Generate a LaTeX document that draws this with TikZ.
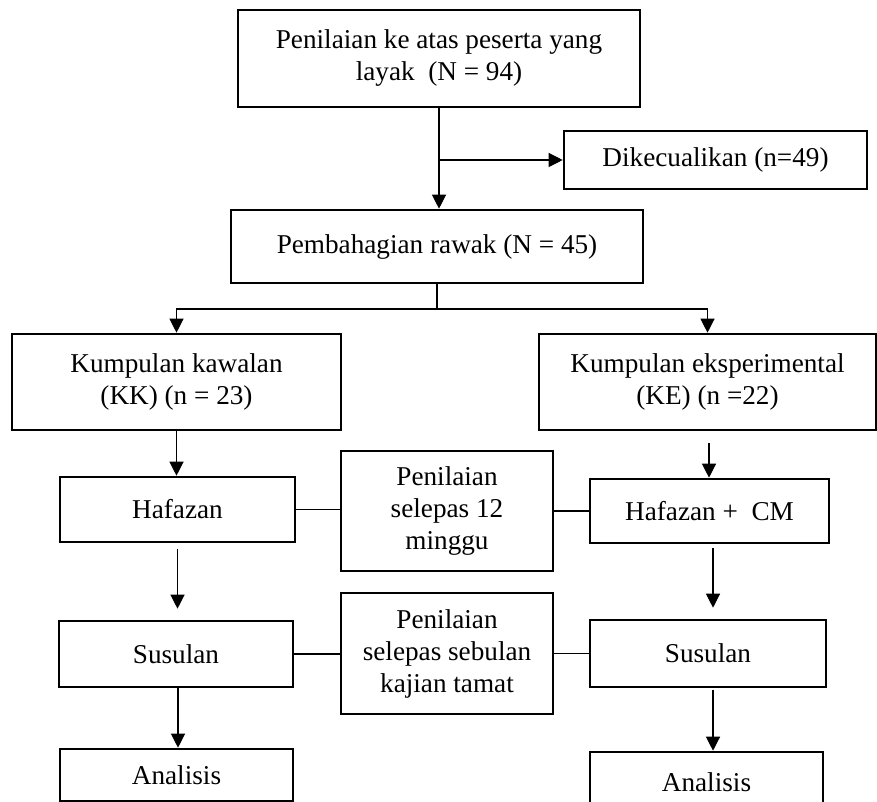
\documentclass[tikz,border=0pt]{standalone}
\usepackage{fontspec}
\setmainfont{Liberation Serif}
\usepackage{tikz}
\usetikzlibrary{positioning, arrows.meta, calc}

\begin{document}
\begin{tikzpicture}[
  x=0.5pt, y=-0.5pt,
  font=\fontsize{13.6}{16}\selectfont,
  stage/.style={draw, line width=1.3pt, align=center, inner sep=2pt},
  flow/.style={-{Triangle[length=7pt, width=7pt]}, line width=0.6pt},
  link/.style={line width=0.6pt},
]
  \clip (0,0) rectangle (877,802);
  \node[stage, minimum width=201pt, minimum height=48.5pt] (elig) at (439,58.5) {Penilaian ke atas peserta yang\\layak\ \ (N = 94)};
  \node[stage, minimum width=151.5pt, minimum height=29pt]  (excl) at (715.5,160) {Dikecualikan (n=49)};
  \node[stage, minimum width=206pt, minimum height=36.5pt]  (rand) at (437,246.5) {Pembahagian rawak (N = 45)};
  \node[stage, minimum width=164.5pt, minimum height=48pt]  (kk)   at (176.5,382) {Kumpulan kawalan\\(KK) (n = 23)};
  \node[stage, minimum width=168.5pt, minimum height=48pt]  (ke)   at (707.5,382) {Kumpulan eksperimental\\(KE) (n =22)};
  \node[stage, minimum width=117.5pt, minimum height=32.5pt] (hafL) at (177.5,509.5) {Hafazan};
  \node[stage, minimum width=106pt, minimum height=60pt]    (mid1) at (447,511) {Penilaian\\selepas 12\\minggu};
  \node[stage, minimum width=119.5pt, minimum height=32pt]  (hafR) at (709.5,511) {Hafazan +\ \ CM};
  \node[stage, minimum width=117pt, minimum height=33pt]    (susL) at (176,654) {Susulan};
  \node[stage, minimum width=106pt, minimum height=60.5pt]  (mid2) at (447,653.5) {Penilaian\\selepas sebulan\\kajian tamat};
  \node[stage, minimum width=118pt, minimum height=33.5pt]  (susR) at (708,653.5) {Susulan};
  \node[stage, minimum width=116.5pt, minimum height=26pt]  (anaL) at (176.5,775) {Analisis};
  \node[stage, minimum width=116.5pt, minimum height=30pt]  (anaR) at (706.5,782) {Analisis};

  % screening and randomisation
  \draw[flow] (elig.south) -- (elig.south |- rand.north);
  \draw[flow] (elig.south |- excl.west) -- (excl.west);
  \coordinate (split) at (437,309);
  \draw[link] (rand.south) -- (split);
  \draw[flow] (split) -| (kk.north);
  \draw[flow] (split) -| (ke.north);

  % control group
  \draw[flow] (kk.south) -- (kk.south |- hafL.north);
  \draw[flow] ([yshift=-3pt]hafL.south) -- ([yshift=5.5pt]hafL.south |- susL.north);
  \draw[flow] ([xshift=1pt]susL.south) -- ([xshift=1pt]susL.south |- anaL.north);

  % experimental group
  \draw[flow] ([xshift=0.75pt, yshift=-6pt]ke.south) -- ([xshift=0.75pt]ke.south |- hafR.north);
  \draw[flow] ([xshift=1.75pt, yshift=-2pt]hafR.south) -- ([xshift=1.75pt, yshift=5.5pt]hafR.south |- susR.north);
  \draw[flow] ([xshift=2.5pt, yshift=-1pt]susR.south) -- ([xshift=2.5pt]susR.south |- anaR.north);

  % assessments
  \draw[link] (hafL.east) -- (hafL.east -| mid1.west);
  \draw[link] (mid1.east) -- (mid1.east -| hafR.west);
  \draw[link] (susL.east) -- (susL.east -| mid2.west);
  \draw[link] (mid2.east) -- (mid2.east -| susR.west);
\end{tikzpicture}
\end{document}
